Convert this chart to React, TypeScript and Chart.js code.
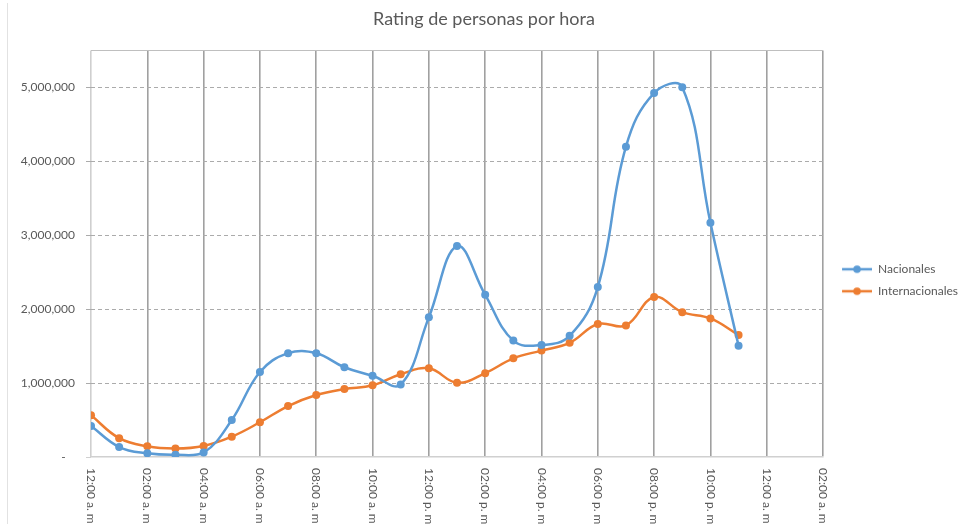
import React, { useEffect, useRef } from 'react';
import { Chart, registerables } from 'chart.js';

Chart.register(...registerables);

const titleText = 'Rating de personas por hora';
const hours = [0, 1, 2, 3, 4, 5, 6, 7, 8, 9, 10, 11, 12, 13, 14, 15, 16, 17, 18, 19, 20, 21, 22, 23];
const tickLabels = [
  '12:00 a. m.', '02:00 a. m.', '04:00 a. m.', '06:00 a. m.', '08:00 a. m.', '10:00 a. m.',
  '12:00 p. m.', '02:00 p. m.', '04:00 p. m.', '06:00 p. m.', '08:00 p. m.', '10:00 p. m.',
  '12:00 a. m.', '02:00 a. m.',
];
const yTickValues = [0, 1000000, 2000000, 3000000, 4000000, 5000000, 5500000];
const nacionales = [
  420000, 135000, 50000, 30000, 60000, 500000, 1150000, 1405000, 1405000, 1215000, 1100000, 980000,
  1890000, 2855000, 2195000, 1575000, 1515000, 1640000, 2300000, 4200000, 4925000, 5005000, 3170000, 1505000,
];
const internacionales = [
  565000, 255000, 145000, 115000, 150000, 275000, 470000, 690000, 840000, 920000, 970000, 1120000,
  1200000, 1005000, 1135000, 1335000, 1440000, 1545000, 1800000, 1780000, 2165000, 1960000, 1875000, 1650000,
];
const seriesNames = ['Nacionales', 'Internacionales'];

const BLUE = '#5B9BD5';
const ORANGE = '#ED7D31';
const TEXT = '#595959';
const FONT = 'Lato, "Open Sans", sans-serif';

function legendMarker(color: string) {
  const c = document.createElement('canvas');
  c.width = 39;
  c.height = 10;
  const g = c.getContext('2d')!;
  g.strokeStyle = color;
  g.lineWidth = 2.5;
  g.beginPath();
  g.moveTo(9, 5);
  g.lineTo(39, 5);
  g.stroke();
  g.fillStyle = color;
  g.beginPath();
  g.arc(24, 5, 3.8, 0, Math.PI * 2);
  g.fill();
  return c;
}

const xLabelPlugin = {
  id: 'xRotLabels',
  afterDraw(chart: any) {
    const scale = chart.scales.x;
    const ctx = chart.ctx;
    ctx.save();
    ctx.fillStyle = TEXT;
    ctx.font = `12px ${FONT}`;
    ctx.textAlign = 'left';
    ctx.textBaseline = 'middle';
    scale.ticks.forEach((t: any) => {
      const label = tickLabels[Math.round(t.value / 2)];
      if (!label) return;
      const x = scale.getPixelForValue(t.value);
      ctx.save();
      ctx.translate(x, chart.chartArea.bottom + 11);
      ctx.rotate(Math.PI / 2);
      ctx.fillText(label, 0, 0);
      ctx.restore();
    });
    ctx.restore();
  },
};

export default function App() {
  const ref = useRef<HTMLCanvasElement | null>(null);

  useEffect(() => {
    if (!ref.current) return;
    const markers = [legendMarker(BLUE), legendMarker(ORANGE)];
    const mk = (name: string, vals: number[], color: string) => ({
      label: name,
      data: hours.map((h, i) => ({ x: h, y: vals[i] })),
      borderColor: color,
      backgroundColor: color,
      borderWidth: 2.5,
      pointRadius: 4,
      pointHoverRadius: 4,
      pointBackgroundColor: color,
      pointBorderWidth: 0,
      tension: 0.4,
    });
    const chart = new Chart(ref.current, {
      type: 'line',
      data: {
        datasets: [
          mk(seriesNames[0], nacionales, BLUE),
          mk(seriesNames[1], internacionales, ORANGE),
        ],
      },
      plugins: [xLabelPlugin],
      options: {
        responsive: false,
        animation: false,
        layout: { padding: { top: 0, left: 0, right: 3, bottom: 0 } },
        plugins: {
          tooltip: { enabled: false },
          title: {
            display: true,
            text: titleText,
            color: TEXT,
            font: { family: FONT, size: 18, weight: 'normal' },
            padding: { top: 8, bottom: 21 },
          },
          legend: {
            position: 'right',
            title: { display: true, text: '', padding: { top: 11, bottom: 11 }, font: { size: 12 } },
            labels: {
              usePointStyle: true,
              pointStyleWidth: 39,
              boxHeight: 10,
              padding: 10,
              color: TEXT,
              font: { family: FONT, size: 12 },
              generateLabels: (c: any) =>
                Chart.defaults.plugins.legend.labels
                  .generateLabels(c)
                  .map((l: any, i: number) => ({ ...l, pointStyle: markers[i] })),
            },
          },
        },
        scales: {
          x: {
            type: 'linear',
            min: 0,
            max: 26,
            ticks: { stepSize: 2, display: false },
            grid: {
              color: (c: any) => (c.tick && c.tick.value === 0 ? '#CFCFCF' : '#A0A0A0'),
              lineWidth: 1.6,
              drawTicks: false,
            },
            border: { display: true, color: '#D0D0D0', width: 1.5 },
            afterFit: (s: any) => {
              s.height = 67;
            },
          },
          y: {
            min: 0,
            max: 5500000,
            afterBuildTicks: (s: any) => {
              s.ticks = yTickValues.map((v) => ({ value: v }));
            },
            ticks: {
              padding: 11,
              color: TEXT,
              font: { family: FONT, size: 12 },
              callback: (v: any) => {
                const n = Number(v);
                if (n === 0) return '-   ';
                if (n % 1000000 !== 0) return '';
                return n.toLocaleString('en-US');
              },
            },
            grid: {
              color: (c: any) => {
                const v = c.tick ? c.tick.value : 0;
                if (v === 0) return 'rgba(0,0,0,0)';
                if (v > 5000000) return '#BFBFBF';
                return '#ABABAB';
              },
              tickColor: (c: any) => {
                const v = c.tick ? c.tick.value : 0;
                if (v > 5000000) return 'rgba(0,0,0,0)';
                if (v === 0) return '#D0D0D0';
                return '#ABABAB';
              },
              lineWidth: 1,
              tickLength: 5,
            },
            border: {
              display: false,
              dash: (c: any) => (c.tick && c.tick.value > 5000000 ? [] : [4, 3]),
            },
            afterFit: (s: any) => {
              s.width = 91;
            },
          },
        },
      } as any,
    });
    return () => chart.destroy();
  }, []);

  return (
    <div style={{ position: 'absolute', left: 0, top: 0, width: 971, height: 524, background: '#fff', overflow: 'hidden' }}>
      <div style={{ position: 'absolute', left: 7, top: 3, width: 1, height: 521, background: '#E2E2E2' }} />
      <canvas ref={ref} width={971} height={524} style={{ position: 'absolute', left: 0, top: 0, width: 971, height: 524 }} />
    </div>
  );
}
